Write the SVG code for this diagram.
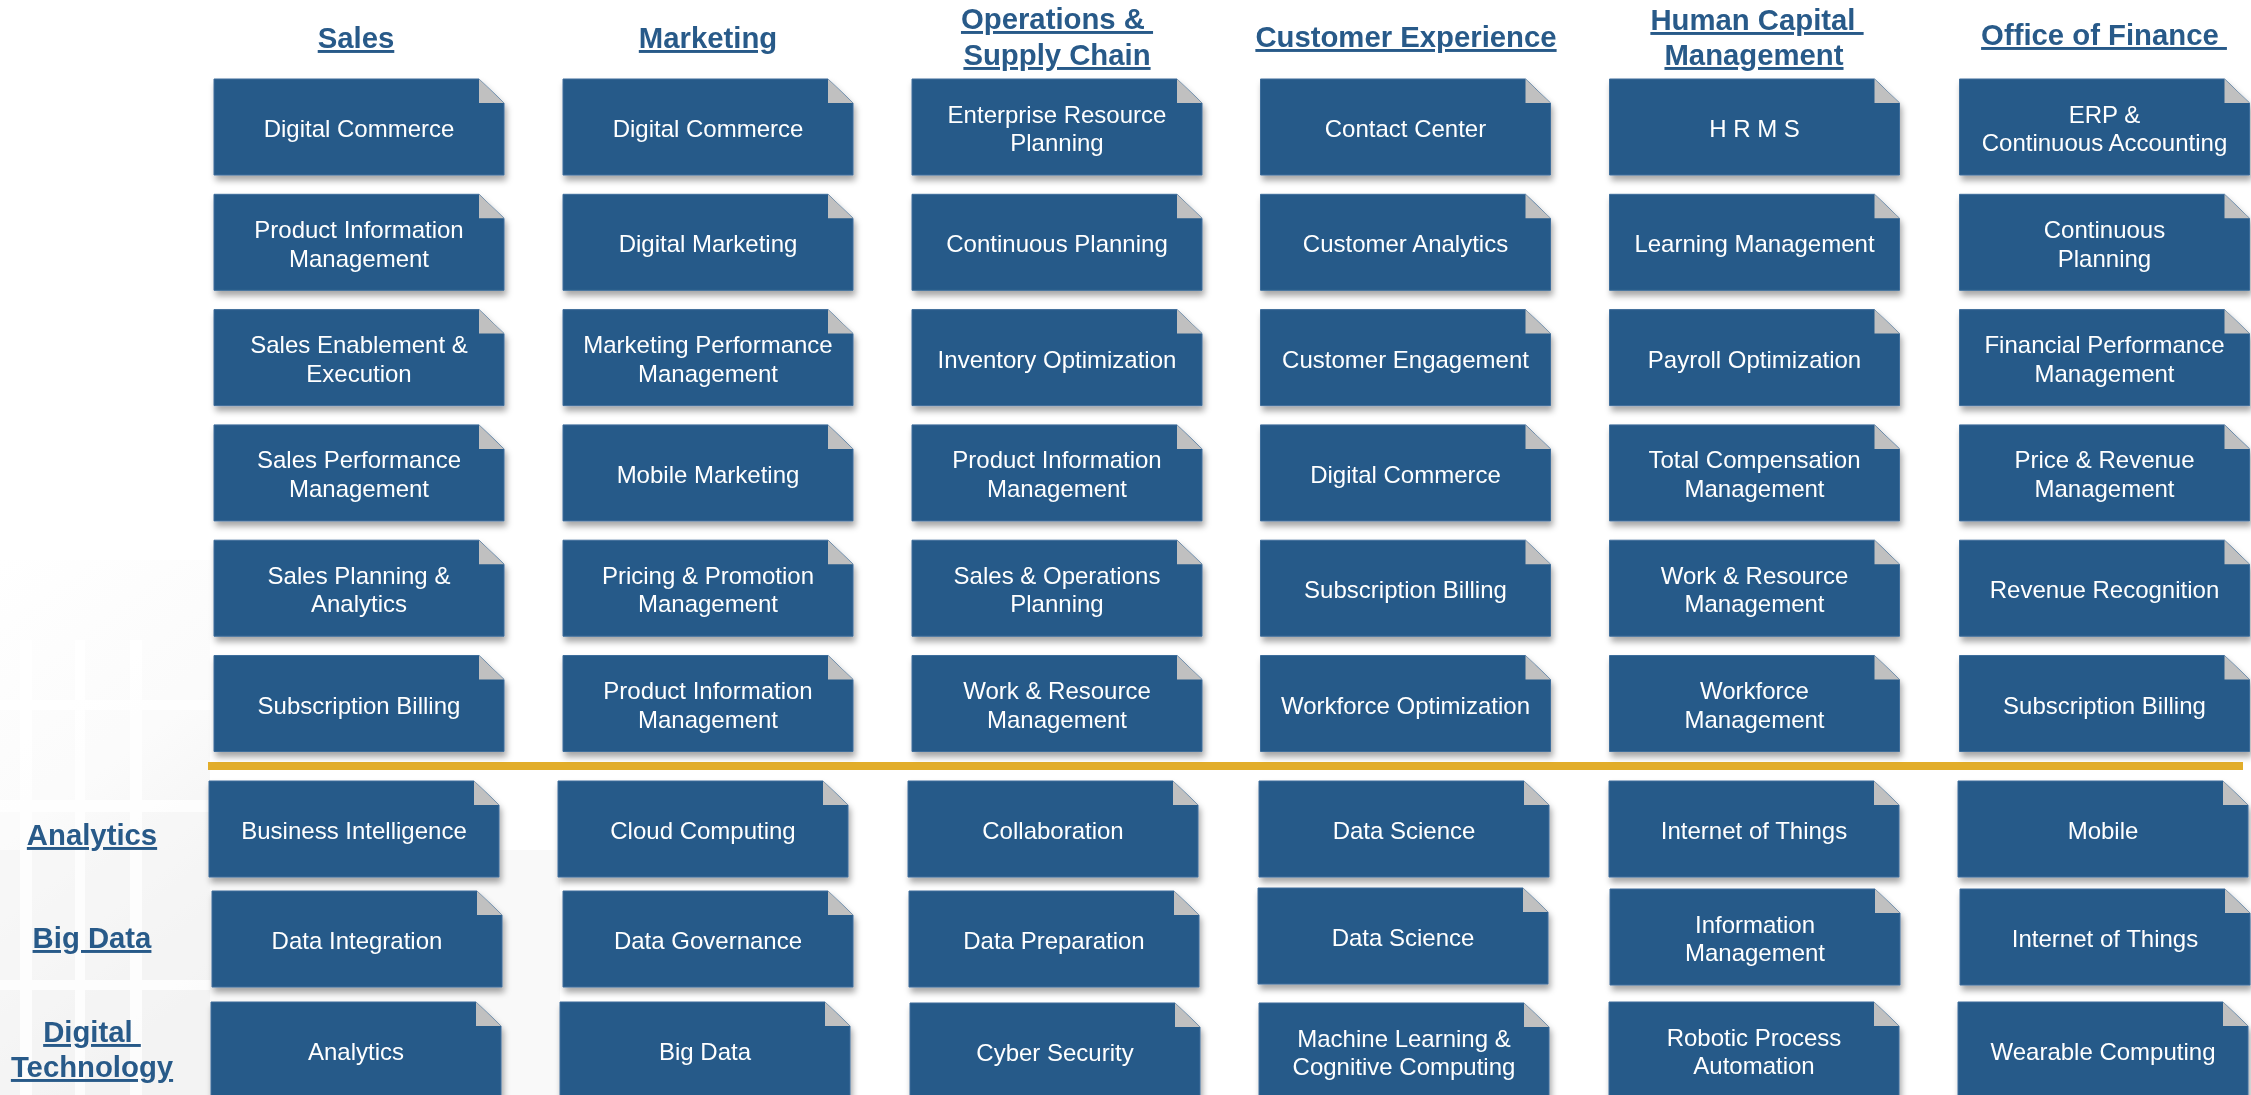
<svg xmlns="http://www.w3.org/2000/svg" xmlns:xlink="http://www.w3.org/1999/xlink" width="2251" height="1095" viewBox="0 0 2251 1095">
<style>
.hd{font-family:"Liberation Sans",Arial,sans-serif;font-weight:bold;font-size:29.3px;fill:#285a89;text-anchor:middle;text-decoration:underline;white-space:pre}
.lb{font-family:"Liberation Sans",Arial,sans-serif;font-size:24px;fill:#ffffff;text-anchor:middle}
</style>
<defs>
<filter id="sh" x="-10%" y="-10%" width="125%" height="135%">
<feDropShadow dx="2" dy="5" stdDeviation="3" flood-color="#000" flood-opacity="0.35"/>
</filter>
<g id="card">
<path d="M0,0 H265 L290,24 V96 H0 Z" fill="#285a89" stroke="#3d6d9b" stroke-width="1" filter="url(#sh)"/>
<path d="M265,0 V24 H290 Z" fill="#c0c0c0"/>
</g>
<linearGradient id="bgG" x1="0" y1="0" x2="0.3" y2="1">
<stop offset="0" stop-color="#ffffff"/>
<stop offset="0.45" stop-color="#fbfbfb"/>
<stop offset="1" stop-color="#eeeeee"/>
</linearGradient>
</defs>
<rect x="0" y="0" width="2251" height="1095" fill="#ffffff"/>
<g id="background" opacity="0.8">
<rect x="0" y="560" width="210" height="535" fill="url(#bgG)"/>
<rect x="0" y="850" width="560" height="245" fill="#f4f4f4" opacity="0.6"/>
<g fill="#ffffff" opacity="0.8">
<rect x="20" y="640" width="12" height="455"/>
<rect x="75" y="640" width="10" height="455"/>
<rect x="130" y="640" width="12" height="455"/>
<rect x="0" y="700" width="210" height="10"/>
<rect x="0" y="800" width="210" height="12"/>
<rect x="0" y="980" width="210" height="10"/>
</g>
</g>

<g id="headers">
<text id="h-sales" class="hd" x="356" y="48">Sales</text>
<text id="h-marketing" class="hd" x="708" y="48">Marketing</text>
<text id="h-ops" class="hd" x="1057"><tspan x="1057" y="29">Operations &amp; </tspan><tspan x="1057" y="65">Supply Chain</tspan></text>
<text id="h-cx" class="hd" x="1406" y="47">Customer Experience</text>
<text id="h-hcm" class="hd" x="1754"><tspan x="1757" y="30">Human Capital </tspan><tspan x="1754" y="65">Management</tspan></text>
<text id="h-fin" class="hd" x="2104" y="45">Office of Finance </text>
<text id="h-analytics" class="hd" x="92" y="845">Analytics</text>
<text id="h-bigdata" class="hd" x="92" y="948">Big Data</text>
<text id="h-digtech" class="hd" x="92"><tspan x="92" y="1042">Digital </tspan><tspan x="92" y="1077">Technology</tspan></text>
</g>

<g id="connectors">
<rect id="divider" x="208" y="762" width="2035" height="8" fill="#e2ad2a"/>
</g>

<g id="sales">
<g id="s1" transform="translate(214,79)"><use href="#card"/><text class="lb" x="145" y="58">Digital Commerce</text></g>
<g id="s2" transform="translate(214,194.3)"><use href="#card"/><text class="lb"><tspan x="145" y="43.5">Product Information</tspan><tspan x="145" y="72.3">Management</tspan></text></g>
<g id="s3" transform="translate(214,309.6)"><use href="#card"/><text class="lb"><tspan x="145" y="43.5">Sales Enablement &amp;</tspan><tspan x="145" y="72.3">Execution</tspan></text></g>
<g id="s4" transform="translate(214,424.9)"><use href="#card"/><text class="lb"><tspan x="145" y="43.5">Sales Performance</tspan><tspan x="145" y="72.3">Management</tspan></text></g>
<g id="s5" transform="translate(214,540.2)"><use href="#card"/><text class="lb"><tspan x="145" y="43.5">Sales Planning &amp;</tspan><tspan x="145" y="72.3">Analytics</tspan></text></g>
<g id="s6" transform="translate(214,655.5)"><use href="#card"/><text class="lb" x="145" y="58">Subscription Billing</text></g>
</g>

<g id="marketing">
<g id="m1" transform="translate(563,79)"><use href="#card"/><text class="lb" x="145" y="58">Digital Commerce</text></g>
<g id="m2" transform="translate(563,194.3)"><use href="#card"/><text class="lb" x="145" y="58">Digital Marketing</text></g>
<g id="m3" transform="translate(563,309.6)"><use href="#card"/><text class="lb"><tspan x="145" y="43.5">Marketing Performance</tspan><tspan x="145" y="72.3">Management</tspan></text></g>
<g id="m4" transform="translate(563,424.9)"><use href="#card"/><text class="lb" x="145" y="58">Mobile Marketing</text></g>
<g id="m5" transform="translate(563,540.2)"><use href="#card"/><text class="lb"><tspan x="145" y="43.5">Pricing &amp; Promotion</tspan><tspan x="145" y="72.3">Management</tspan></text></g>
<g id="m6" transform="translate(563,655.5)"><use href="#card"/><text class="lb"><tspan x="145" y="43.5">Product Information</tspan><tspan x="145" y="72.3">Management</tspan></text></g>
</g>

<g id="operations">
<g id="o1" transform="translate(912,79)"><use href="#card"/><text class="lb"><tspan x="145" y="43.5">Enterprise Resource</tspan><tspan x="145" y="72.3">Planning</tspan></text></g>
<g id="o2" transform="translate(912,194.3)"><use href="#card"/><text class="lb" x="145" y="58">Continuous Planning</text></g>
<g id="o3" transform="translate(912,309.6)"><use href="#card"/><text class="lb" x="145" y="58">Inventory Optimization</text></g>
<g id="o4" transform="translate(912,424.9)"><use href="#card"/><text class="lb"><tspan x="145" y="43.5">Product Information</tspan><tspan x="145" y="72.3">Management</tspan></text></g>
<g id="o5" transform="translate(912,540.2)"><use href="#card"/><text class="lb"><tspan x="145" y="43.5">Sales &amp; Operations</tspan><tspan x="145" y="72.3">Planning</tspan></text></g>
<g id="o6" transform="translate(912,655.5)"><use href="#card"/><text class="lb"><tspan x="145" y="43.5">Work &amp; Resource</tspan><tspan x="145" y="72.3">Management</tspan></text></g>
</g>

<g id="customer-experience">
<g id="c1" transform="translate(1260.5,79)"><use href="#card"/><text class="lb" x="145" y="58">Contact Center</text></g>
<g id="c2" transform="translate(1260.5,194.3)"><use href="#card"/><text class="lb" x="145" y="58">Customer Analytics</text></g>
<g id="c3" transform="translate(1260.5,309.6)"><use href="#card"/><text class="lb" x="145" y="58">Customer Engagement</text></g>
<g id="c4" transform="translate(1260.5,424.9)"><use href="#card"/><text class="lb" x="145" y="58">Digital Commerce</text></g>
<g id="c5" transform="translate(1260.5,540.2)"><use href="#card"/><text class="lb" x="145" y="58">Subscription Billing</text></g>
<g id="c6" transform="translate(1260.5,655.5)"><use href="#card"/><text class="lb" x="145" y="58">Workforce Optimization</text></g>
</g>

<g id="human-capital">
<g id="h1" transform="translate(1609.5,79)"><use href="#card"/><text class="lb" x="145" y="58">H R M S</text></g>
<g id="h2" transform="translate(1609.5,194.3)"><use href="#card"/><text class="lb" x="145" y="58">Learning Management</text></g>
<g id="h3" transform="translate(1609.5,309.6)"><use href="#card"/><text class="lb" x="145" y="58">Payroll Optimization</text></g>
<g id="h4" transform="translate(1609.5,424.9)"><use href="#card"/><text class="lb"><tspan x="145" y="43.5">Total Compensation</tspan><tspan x="145" y="72.3">Management</tspan></text></g>
<g id="h5" transform="translate(1609.5,540.2)"><use href="#card"/><text class="lb"><tspan x="145" y="43.5">Work &amp; Resource</tspan><tspan x="145" y="72.3">Management</tspan></text></g>
<g id="h6" transform="translate(1609.5,655.5)"><use href="#card"/><text class="lb"><tspan x="145" y="43.5">Workforce</tspan><tspan x="145" y="72.3">Management</tspan></text></g>
</g>

<g id="finance">
<g id="f1" transform="translate(1959.5,79)"><use href="#card"/><text class="lb"><tspan x="145" y="43.5">ERP &amp;</tspan><tspan x="145" y="72.3">Continuous Accounting</tspan></text></g>
<g id="f2" transform="translate(1959.5,194.3)"><use href="#card"/><text class="lb"><tspan x="145" y="43.5">Continuous</tspan><tspan x="145" y="72.3">Planning</tspan></text></g>
<g id="f3" transform="translate(1959.5,309.6)"><use href="#card"/><text class="lb"><tspan x="145" y="43.5">Financial Performance</tspan><tspan x="145" y="72.3">Management</tspan></text></g>
<g id="f4" transform="translate(1959.5,424.9)"><use href="#card"/><text class="lb"><tspan x="145" y="43.5">Price &amp; Revenue</tspan><tspan x="145" y="72.3">Management</tspan></text></g>
<g id="f5" transform="translate(1959.5,540.2)"><use href="#card"/><text class="lb" x="145" y="58">Revenue Recognition</text></g>
<g id="f6" transform="translate(1959.5,655.5)"><use href="#card"/><text class="lb" x="145" y="58">Subscription Billing</text></g>
</g>

<g id="tech-analytics">
<g id="a1" transform="translate(209,781)"><use href="#card"/><text class="lb" x="145" y="58">Business Intelligence</text></g>
<g id="a2" transform="translate(558,781)"><use href="#card"/><text class="lb" x="145" y="58">Cloud Computing</text></g>
<g id="a3" transform="translate(908,781)"><use href="#card"/><text class="lb" x="145" y="58">Collaboration</text></g>
<g id="a4" transform="translate(1259,781)"><use href="#card"/><text class="lb" x="145" y="58">Data Science</text></g>
<g id="a5" transform="translate(1609,781)"><use href="#card"/><text class="lb" x="145" y="58">Internet of Things</text></g>
<g id="a6" transform="translate(1958,781)"><use href="#card"/><text class="lb" x="145" y="58">Mobile</text></g>
</g>

<g id="tech-bigdata">
<g id="b1" transform="translate(212,891)"><use href="#card"/><text class="lb" x="145" y="58">Data Integration</text></g>
<g id="b2" transform="translate(563,891)"><use href="#card"/><text class="lb" x="145" y="58">Data Governance</text></g>
<g id="b3" transform="translate(909,891)"><use href="#card"/><text class="lb" x="145" y="58">Data Preparation</text></g>
<g id="b4" transform="translate(1258,888)"><use href="#card"/><text class="lb" x="145" y="58">Data Science</text></g>
<g id="b5" transform="translate(1610,889)"><use href="#card"/><text class="lb"><tspan x="145" y="43.5">Information</tspan><tspan x="145" y="72.3">Management</tspan></text></g>
<g id="b6" transform="translate(1960,889)"><use href="#card"/><text class="lb" x="145" y="58">Internet of Things</text></g>
</g>

<g id="tech-digital">
<g id="d1" transform="translate(211,1002)"><use href="#card"/><text class="lb" x="145" y="58">Analytics</text></g>
<g id="d2" transform="translate(560,1002)"><use href="#card"/><text class="lb" x="145" y="58">Big Data</text></g>
<g id="d3" transform="translate(910,1003)"><use href="#card"/><text class="lb" x="145" y="58">Cyber Security</text></g>
<g id="d4" transform="translate(1259,1003)"><use href="#card"/><text class="lb"><tspan x="145" y="43.5">Machine Learning &amp;</tspan><tspan x="145" y="72.3">Cognitive Computing</tspan></text></g>
<g id="d5" transform="translate(1609,1002)"><use href="#card"/><text class="lb"><tspan x="145" y="43.5">Robotic Process</tspan><tspan x="145" y="72.3">Automation</tspan></text></g>
<g id="d6" transform="translate(1958,1002)"><use href="#card"/><text class="lb" x="145" y="58">Wearable Computing</text></g>
</g>
</svg>
